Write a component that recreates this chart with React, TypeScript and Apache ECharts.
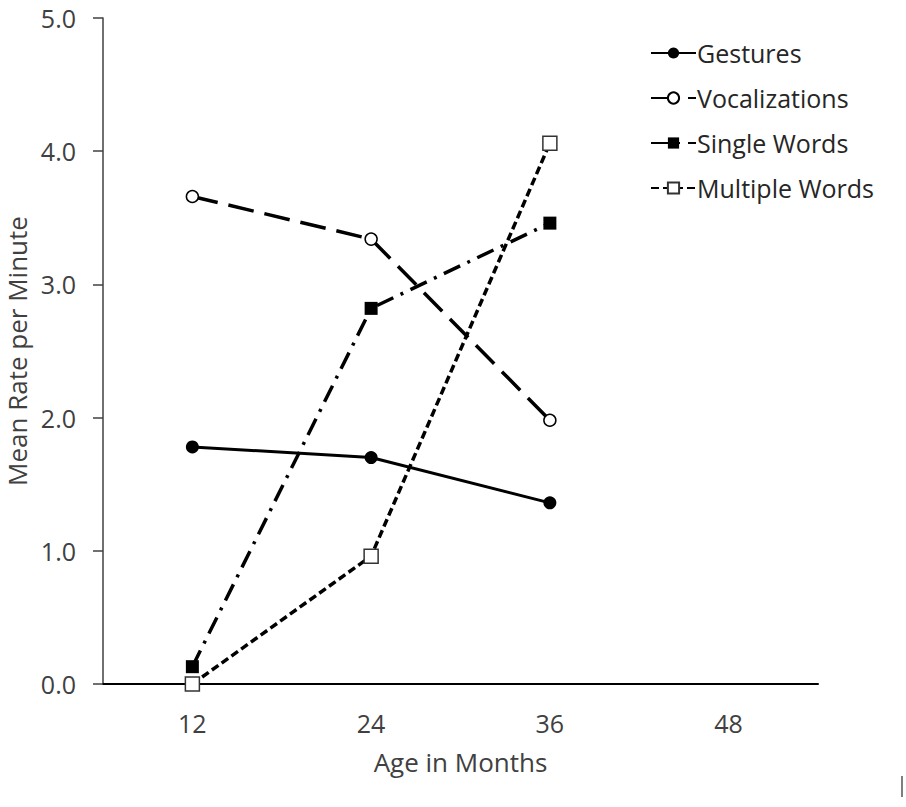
import React, { useEffect, useRef } from "react";
import * as echarts from "echarts";

const ages = ["12", "24", "36", "48"];
const gestures = [1.78, 1.7, 1.36];
const vocalizations = [3.66, 3.34, 1.98];
const singleWords = [0.13, 2.82, 3.46];
const multipleWords = [0.0, 0.96, 4.06];
const yTicks = [0, 1, 2, 3, 4, 5];

const FONT = "'Open Sans', sans-serif";
const TEXT = "#404040";

export default function App() {
  const ref = useRef<HTMLDivElement>(null);
  useEffect(() => {
    const chart = echarts.init(ref.current!, null, { renderer: "svg" });
    const base = {
      type: "line",
      showSymbol: true,
      symbolKeepAspect: true,
    };
    chart.setOption({
      animation: false,
      backgroundColor: "#ffffff",
      textStyle: { fontFamily: FONT },
      grid: { left: 103, right: 88, top: 18, bottom: 123, containLabel: false, outerBoundsMode: "none" },
      legend: {
        orient: "vertical",
        left: 645,
        top: 35,
        itemWidth: 45,
        itemHeight: 14,
        itemGap: 19,
        textStyle: { fontFamily: FONT, fontSize: 25, color: "#262626", lineHeight: 26, padding: [0, 0, 0, -4] },
        data: ["Gestures", "Vocalizations", "Single Words", "Multiple Words"],
      },
      xAxis: {
        type: "category",
        data: ages,
        boundaryGap: true,
        axisLine: { lineStyle: { color: "#000", width: 2 } },
        axisTick: { length: 10, lineStyle: { color: "#000", width: 1.5 } },
        axisLabel: { color: TEXT, fontSize: 25, margin: 26, fontFamily: FONT },
        name: "Age in Months",
        nameLocation: "middle",
        nameGap: 65,
        nameTextStyle: { color: TEXT, fontSize: 26, fontFamily: FONT, verticalAlign: "top" },
        splitLine: { show: false },
      },
      yAxis: {
        type: "value",
        min: yTicks[0],
        max: yTicks[yTicks.length - 1],
        interval: 1,
        axisLine: { show: true, lineStyle: { color: "#404040", width: 1.5 } },
        axisTick: { show: true, length: 10, lineStyle: { color: "#404040", width: 1.5 } },
        axisLabel: {
          color: TEXT,
          fontSize: 25,
          margin: 27,
          fontFamily: FONT,
          formatter: (v: number) => v.toFixed(1),
        },
        splitLine: { show: false },
        name: "Mean Rate per Minute",
        nameLocation: "middle",
        nameGap: 72,
        nameTextStyle: { color: TEXT, fontSize: 26, fontFamily: FONT },
      },
      series: [
        {
          ...base,
          name: "Gestures",
          data: gestures,
          symbol: "circle",
          symbolSize: 13,
          itemStyle: { color: "#000" },
          lineStyle: { color: "#000", width: 3, type: "solid" },
          z: 4,
        },
        {
          ...base,
          name: "Vocalizations",
          data: vocalizations,
          symbol: "circle",
          symbolSize: 12,
          itemStyle: { color: "#fff", borderColor: "#000", borderWidth: 1.5 },
          lineStyle: { color: "#000", width: 3.5, type: [26, 11] },
          z: 3,
        },
        {
          ...base,
          name: "Single Words",
          data: singleWords,
          symbol: "rect",
          symbolSize: 13,
          itemStyle: { color: "#000" },
          lineStyle: { color: "#000", width: 3.5, type: [18, 8, 3, 8] },
          z: 2,
        },
        {
          ...base,
          name: "Multiple Words",
          data: multipleWords,
          symbol: "rect",
          symbolSize: 14,
          itemStyle: { color: "#fff", borderColor: "#333", borderWidth: 1.5 },
          lineStyle: { color: "#000", width: 3.5, type: [8, 4] },
          z: 5,
        },
      ],
      graphic: [
        {
          type: "line",
          shape: { x1: 902, y1: 776, x2: 902, y2: 797 },
          style: { stroke: "#555", lineWidth: 1.5 },
        },
      ],
    });
    return () => chart.dispose();
  }, []);
  return <div ref={ref} style={{ width: 906, height: 807, position: "absolute", left: 0, top: 0 }} />;
}
